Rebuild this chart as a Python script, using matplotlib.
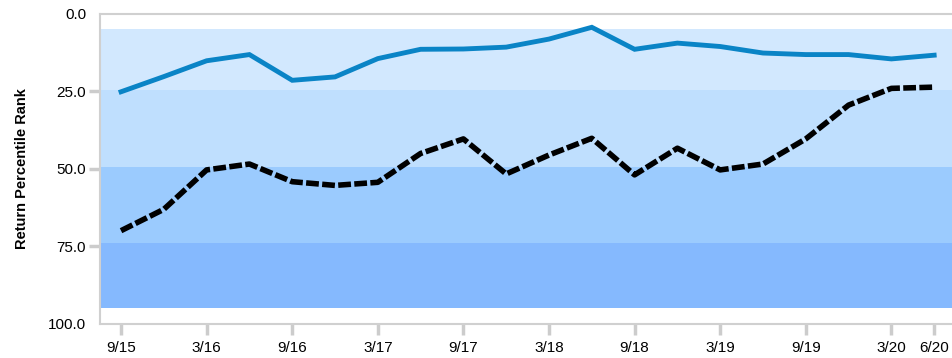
import matplotlib.pyplot as plt
import numpy as np

plt.rcParams['font.family'] = ['Liberation Sans', 'DejaVu Sans']

# Quarter-end dates, Sep 2015 through Jun 2020
quarters = ['9/15', '12/15', '3/16', '6/16', '9/16', '12/16', '3/17', '6/17',
            '9/17', '12/17', '3/18', '6/18', '9/18', '12/18', '3/19', '6/19',
            '9/19', '12/19', '3/20', '6/20']
tick_labels = ['9/15', '3/16', '9/16', '3/17', '9/17', '3/18', '9/18',
               '3/19', '9/19', '3/20', '6/20']

fund_rank = [25.1, 20.2, 15.1, 13.1, 21.4, 20.3, 14.4, 11.4, 11.3, 10.7,
             8.1, 4.3, 11.4, 9.4, 10.5, 12.6, 13.1, 13.1, 14.5, 13.3]
benchmark_rank = [69.9, 63.0, 50.3, 48.4, 54.1, 55.3, 54.3, 45.0, 40.3, 51.6,
                  45.5, 40.1, 51.9, 43.3, 50.3, 48.4, 40.3, 29.4, 24.0, 23.6]

# Quartile bands (percentile ranges)
band_edges = [5, 24.5, 49.3, 74, 95]
band_colors = ['#d2e8fe', '#bfdffe', '#9bcbfe', '#85b9fe']

fig = plt.figure(figsize=(9.53, 3.58), dpi=100)
ax = fig.add_axes([0.105, 0.095, 0.895, 0.866])

x = np.arange(len(quarters))
for lo, hi, c in zip(band_edges[:-1], band_edges[1:], band_colors):
    ax.axhspan(lo, hi, color=c, lw=0, zorder=0)

ax.plot(x, fund_rank, color='#0a84c6', lw=3.5, solid_joinstyle='miter', zorder=3)
ax.plot(x, benchmark_rank, color='black', lw=4.0, dashes=(2.3, 0.6), zorder=3)

ax.set_xlim(-0.49, 19.44)
ax.set_ylim(100, 0)

ax.set_xticks([quarters.index(q) for q in tick_labels])
ax.set_xticklabels(tick_labels, fontsize=11)
ax.set_yticks([0, 25, 50, 75, 100])
ax.set_yticklabels(['0.0', '25.0', '50.0', '75.0', '100.0'], fontsize=11)

ax.tick_params(axis='both', color='#cccccc', width=2.5, length=8)
ax.tick_params(axis='y', pad=2)
ax.tick_params(axis='x', pad=4)
yt = ax.yaxis.get_major_ticks()
yt[0].tick1line.set_visible(False)
yt[-1].tick1line.set_visible(False)

for side in ['top', 'left', 'bottom']:
    ax.spines[side].set_color('#d0d0d0')
    ax.spines[side].set_linewidth(1.5)
ax.spines['right'].set_visible(False)

ax.set_ylabel('Return Percentile Rank', fontsize=10.5, fontweight='bold', labelpad=14)

fig.savefig('out.png', dpi=100)
